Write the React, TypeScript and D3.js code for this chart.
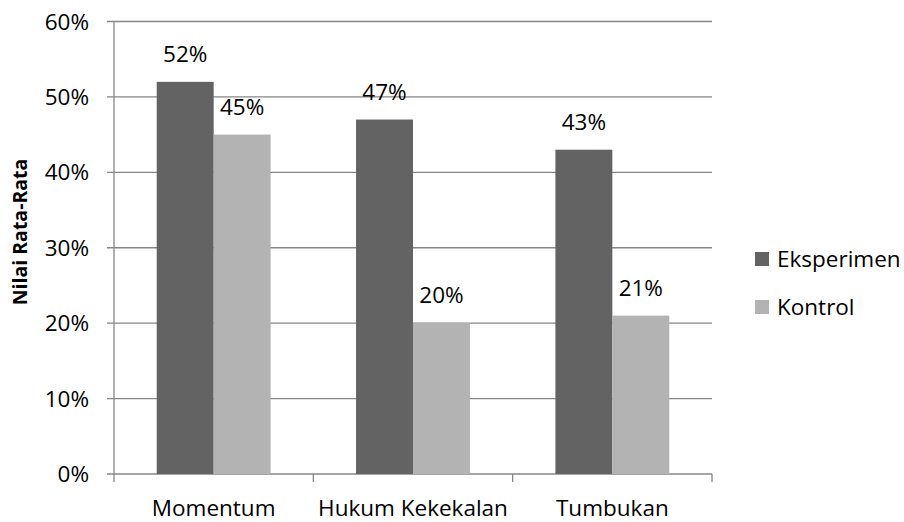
import React from "react";
import * as d3 from "d3";

const categories = ["Momentum", "Hukum Kekekalan", "Tumbukan"];
const seriesNames = ["Eksperimen", "Kontrol"];
const eksperimen = [52, 47, 43];
const kontrol = [45, 20, 21];
const yTicks = [0, 10, 20, 30, 40, 50, 60];
const colors = ["#636363", "#b3b3b3"];

export default function App() {
  const W = 904, H = 522;
  const left = 114, right = 712, top = 21.5, bottom = 474;
  const x = d3.scaleBand<string>().domain(categories).range([left, right]).paddingInner(0).paddingOuter(0);
  const bw = x.bandwidth() / 3.5;
  const y = d3.scaleLinear().domain([0, 60]).range([bottom, top]);
  const series = [eksperimen, kontrol];
  const font = "'Open Sans', sans-serif";
  const fs = 22.5;
  const grid = "#878787";
  return (
    <svg width={W} height={H} style={{ position: "absolute", left: 0, top: 0, background: "#fff" }} fontFamily={font}>
      {yTicks.map((t) => (
        <g key={t}>
          <line x1={left - 7} x2={right} y1={y(t)} y2={y(t)} stroke={grid} strokeWidth={1.3} />
          <text x={89} y={y(t) + 8} textAnchor="end" fontSize={fs} fill="#000">{t}%</text>
        </g>
      ))}
      <line x1={left} x2={left} y1={top} y2={bottom + 8} stroke={grid} strokeWidth={1.3} />
      {categories.map((c) => (
        <line key={c} x1={(x(c) as number) + x.bandwidth()} x2={(x(c) as number) + x.bandwidth()} y1={bottom} y2={bottom + 8} stroke={grid} strokeWidth={1.3} />
      ))}
      {categories.map((c, i) => {
        const x0 = (x(c) as number) + bw * 0.75;
        return (
          <g key={c}>
            {series.map((s, j) => (
              <g key={j}>
                <rect x={x0 + j * bw} y={y(s[i])} width={bw} height={bottom - y(s[i])} fill={colors[j]} />
                <text x={x0 + j * bw + bw / 2} y={y(s[i]) - 20} textAnchor="middle" fontSize={fs} fill="#000">{s[i]}%</text>
              </g>
            ))}
            <text x={(x(c) as number) + x.bandwidth() / 2} y={515.5} textAnchor="middle" fontSize={fs} fill="#000">{c}</text>
          </g>
        );
      })}
      <text transform={`translate(27,232) rotate(-90)`} textAnchor="middle" fontSize={19.5} fontWeight="bold" fill="#000">Nilai Rata-Rata</text>
      {seriesNames.map((n, j) => (
        <g key={n}>
          <rect x={755} y={252 + j * 48} width={14} height={14} fill={colors[j]} />
          <text x={777} y={267 + j * 48} fontSize={fs} fill="#000">{n}</text>
        </g>
      ))}
    </svg>
  );
}
